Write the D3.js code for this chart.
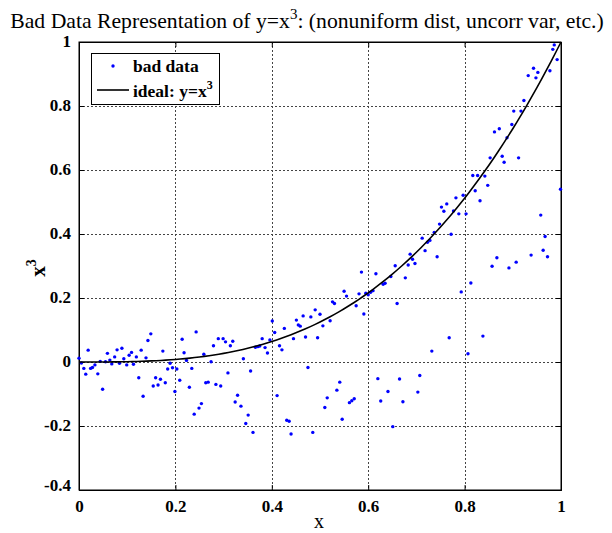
<!DOCTYPE html>
<html>
<head>
<meta charset="utf-8">
<script src="https://cdn.jsdelivr.net/npm/d3@7"></script>
<style>
  html, body { margin: 0; padding: 0; background: #fff; }
  svg { display: block; }
  text { font-family: "Liberation Serif", "Times New Roman", serif; }
</style>
</head>
<body>
<svg id="chart" width="612" height="533"></svg>
<script>
// Sampled x positions of the measurements
const xValues = [
  0.000,0.005,0.010,0.014,0.019,0.024,0.028,0.033,0.039,0.044,
  0.049,0.055,0.059,0.064,0.068,0.074,0.079,0.084,0.089,0.093,
  0.099,0.104,0.109,0.113,0.119,0.124,0.129,0.133,0.139,0.143,
  0.149,0.154,0.159,0.164,0.169,0.174,0.179,0.184,0.189,0.194,
  0.199,0.203,0.209,0.214,0.218,0.223,0.229,0.234,0.239,0.243,
  0.249,0.254,0.259,0.263,0.268,0.274,0.279,0.284,0.289,0.294,
  0.299,0.304,0.309,0.314,0.319,0.324,0.329,0.336,0.341,0.346,
  0.351,0.356,0.361,0.366,0.371,0.375,0.380,0.386,0.391,0.396,
  0.401,0.406,0.411,0.416,0.421,0.426,0.431,0.436,0.440,0.445,
  0.451,0.455,0.459,0.465,0.470,0.475,0.481,0.485,0.490,0.495,
  0.500,0.506,0.510,0.515,0.521,0.526,0.530,0.535,0.541,0.546,
  0.550,0.555,0.561,0.566,0.571,0.575,0.581,0.586,0.591,0.595,
  0.600,0.605,0.610,0.616,0.620,0.626,0.631,0.635,0.641,0.647,
  0.651,0.656,0.660,0.665,0.672,0.677,0.683,0.687,0.692,0.697,
  0.703,0.707,0.712,0.718,0.723,0.728,0.732,0.737,0.743,0.748,
  0.752,0.757,0.763,0.768,0.772,0.777,0.782,0.788,0.793,0.797,
  0.803,0.807,0.813,0.817,0.822,0.827,0.832,0.838,0.842,0.848,
  0.853,0.857,0.862,0.867,0.872,0.878,0.882,0.888,0.892,0.898,
  0.902,0.907,0.912,0.917,0.923,0.932,0.938,0.943,0.948,0.952,
  0.958,0.963,0.967,0.972,0.977,0.983,0.986,0.992,0.999
];

// Measured values (noisy, partly uncorrelated)
const yValues = [
   0.012,-0.003,-0.020,-0.038, 0.037,-0.020,-0.017,-0.009,-0.037, 0.002,
  -0.085, 0.001, 0.027, 0.006,-0.006, 0.016, 0.038,-0.004, 0.043, 0.010,
  -0.009, 0.021, 0.030,-0.007, 0.016,-0.049, 0.037,-0.107, 0.013, 0.067,
   0.088,-0.075,-0.049,-0.072,-0.054, 0.034,-0.065,-0.022,-0.004,-0.018,
  -0.092,-0.022,-0.057, 0.071, 0.029, 0.005,-0.079,-0.020,-0.163, 0.094,
  -0.144,-0.130, 0.024,-0.065,-0.063, 0.001, 0.051,-0.070, 0.073,-0.075,
   0.073, 0.063,-0.034, 0.051, 0.065,-0.125,-0.104,-0.138, 0.010,-0.192,
  -0.166,-0.028,-0.220, 0.046, 0.048, 0.050, 0.073, 0.045, 0.028, 0.069,
   0.128, 0.092,-0.105, 0.051, 0.038, 0.105,-0.182,-0.185,-0.225, 0.073,
   0.131, 0.116, 0.112, 0.144, 0.078,-0.017, 0.141,-0.220, 0.163, 0.076,
   0.149, 0.113,-0.142,-0.112, 0.129, 0.188, 0.183,-0.088,-0.063,-0.179,
   0.221, 0.206,-0.127,-0.121,-0.115, 0.176, 0.213, 0.281, 0.150, 0.215,
   0.210, 0.218, 0.223, 0.276,-0.052,-0.122, 0.243, 0.246,-0.092, 0.267,
  -0.202, 0.301, 0.183,-0.053,-0.124, 0.263, 0.303, 0.337, 0.321, 0.308,
  -0.094,-0.042, 0.387, 0.348, 0.374, 0.380, 0.034, 0.405, 0.329, 0.431,
   0.484, 0.471, 0.494, 0.076, 0.399, 0.472, 0.513, 0.463, 0.219, 0.521,
   0.463, 0.026, 0.247, 0.583, 0.535, 0.583, 0.504, 0.081, 0.581, 0.552,
   0.638, 0.299, 0.719, 0.326, 0.729, 0.643, 0.624, 0.701, 0.294, 0.742,
   0.784, 0.312, 0.638, 0.784, 0.817, 0.895, 0.334, 0.918, 0.888, 0.905,
   0.459, 0.349, 0.392, 0.329, 0.910, 0.977, 0.991, 0.945, 0.540
];

const xTicks = [0, 0.2, 0.4, 0.6, 0.8, 1];
const yTicks = [-0.4, -0.2, 0, 0.2, 0.4, 0.6, 0.8, 1];
const seriesNames = ["bad data", "ideal: y=x"];

const points = xValues.map((x, i) => ({ x, y: yValues[i] }));
const ideal = d3.range(0, 101).map(i => { const x = i / 100; return { x, y: x * x * x }; });

const svg = d3.select("#chart");
const margin = { left: 79, right: 51, top: 42, bottom: 43 };
const W = 612, H = 533;
const x = d3.scaleLinear().domain([0, 1]).range([margin.left, W - margin.right]);
const y = d3.scaleLinear().domain([-0.4, 1]).range([H - margin.bottom, margin.top]);

// Grid
const grid = svg.append("g").attr("stroke", "#444").attr("stroke-width", 1).attr("stroke-dasharray", "2,2");
grid.selectAll(".gx").data(xTicks.slice(1, -1)).join("line")
  .attr("x1", d => Math.round(x(d)) + 0.5).attr("x2", d => Math.round(x(d)) + 0.5)
  .attr("y1", y(1)).attr("y2", y(-0.4));
grid.selectAll(".gy").data(yTicks.slice(1, -1)).join("line")
  .attr("y1", d => Math.round(y(d)) + 0.5).attr("y2", d => Math.round(y(d)) + 0.5)
  .attr("x1", x(0)).attr("x2", x(1));

// Axes with inward ticks; plain hyphen for negatives
const fmt = d => String(d);
const xAxis = svg.append("g").attr("transform", `translate(0,${y(-0.4)})`)
  .call(d3.axisBottom(x).tickValues(xTicks).tickSize(-5).tickPadding(10).tickFormat(fmt));
const yAxis = svg.append("g").attr("transform", `translate(${x(0)},0)`)
  .call(d3.axisLeft(y).tickValues(yTicks).tickSize(-5).tickPadding(8).tickFormat(fmt));
svg.append("g").attr("transform", `translate(0,${y(1)})`)
  .call(d3.axisTop(x).tickValues(xTicks).tickSize(-5).tickFormat(""));
svg.append("g").attr("transform", `translate(${x(1)},0)`)
  .call(d3.axisRight(y).tickValues(yTicks).tickSize(-5).tickFormat(""));
svg.selectAll(".domain").attr("stroke", "#000");
svg.selectAll(".tick line").attr("stroke", "#000");
[xAxis, yAxis].forEach(a => a.selectAll("text")
  .attr("font-family", "Liberation Serif").attr("font-weight", "bold")
  .attr("font-size", 17).attr("fill", "#000"));
yAxis.selectAll("text").attr("dy", "0.25em");
yAxis.selectAll(".tick").filter(d => d === -0.4).select("text").attr("dy", "0.05em");

// Box
svg.append("rect").attr("x", x(0)).attr("y", y(1))
  .attr("width", x(1) - x(0)).attr("height", y(-0.4) - y(1))
  .attr("fill", "none").attr("stroke", "#000").attr("stroke-width", 1);

// Data points
svg.append("g").selectAll("circle").data(points).join("circle")
  .attr("cx", d => x(d.x)).attr("cy", d => y(d.y)).attr("r", 1.7)
  .attr("fill", "#0000ff");

// Ideal curve
svg.append("path").datum(ideal)
  .attr("d", d3.line().x(d => x(d.x)).y(d => y(d.y)))
  .attr("fill", "none").attr("stroke", "#000").attr("stroke-width", 1.6);

// Legend
const lg = svg.append("g");
lg.append("rect").attr("x", 91.5).attr("y", 53.5).attr("width", 128).attr("height", 51)
  .attr("fill", "#fff").attr("stroke", "#000");
lg.append("circle").attr("cx", 113).attr("cy", 66).attr("r", 1.7).attr("fill", "#0000ff");
lg.append("text").attr("x", 133).attr("y", 72).attr("font-weight", "bold").attr("font-size", 17.5)
  .text(seriesNames[0]);
lg.append("line").attr("x1", 97).attr("x2", 129).attr("y1", 90).attr("y2", 90)
  .attr("stroke", "#000").attr("stroke-width", 1.6);
const t2 = lg.append("text").attr("x", 133).attr("y", 97).attr("font-weight", "bold").attr("font-size", 17.5);
t2.append("tspan").text(seriesNames[1]);
t2.append("tspan").attr("dy", -8).attr("font-size", 12).text("3");

// Title
const title = svg.append("text").attr("x", 307).attr("y", 28).attr("text-anchor", "middle")
  .attr("font-size", 21.7);
title.append("tspan").text("Bad Data Representation of y=x");
title.append("tspan").attr("dy", -9).attr("font-size", 15).text("3");
title.append("tspan").attr("dy", 9).text(": (nonuniform dist, uncorr var, etc.)");

// Axis labels
svg.append("text").attr("x", 319).attr("y", 528).attr("text-anchor", "middle")
  .attr("font-size", 20).text("x");
const yl = svg.append("text").attr("transform", "translate(45,268) rotate(-90)")
  .attr("text-anchor", "middle").attr("font-weight", "bold").attr("font-size", 21);
yl.append("tspan").text("x");
yl.append("tspan").attr("dy", -9).attr("font-size", 14).text("3");
</script>
</body>
</html>
